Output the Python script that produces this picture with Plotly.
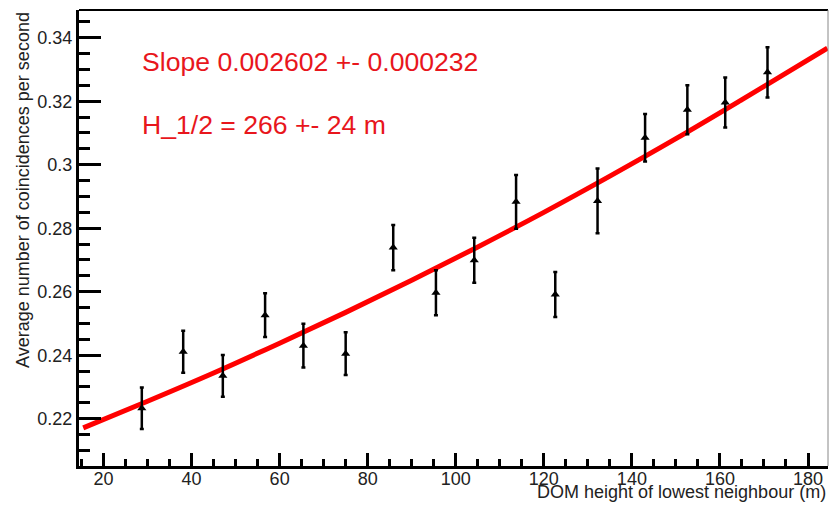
import plotly.graph_objects as go

# measured points: DOM height (m), average coincidence rate (1/s), error
height_m = [28.7, 38.1, 47.1, 56.7, 65.4, 75.0, 85.8, 95.5, 104.2, 113.7,
            122.6, 132.2, 143.0, 152.6, 161.2, 170.8]
rate = [0.2233, 0.2411, 0.2335, 0.2526, 0.2430, 0.2405, 0.2739, 0.2597,
        0.2699, 0.2883, 0.2591, 0.2886, 0.3085, 0.3173, 0.3196, 0.3291]
rate_err = [0.0065, 0.0066, 0.0066, 0.0069, 0.0069, 0.0067, 0.0071, 0.0071,
            0.0071, 0.0085, 0.0071, 0.0102, 0.0075, 0.0077, 0.0079, 0.0079]

# fitted curve
fit_x = [15.4, 30, 45, 60, 75, 90, 105, 120, 135, 150, 165, 184.4]
fit_y = [0.2171, 0.2255, 0.2344, 0.2438, 0.2535, 0.2636, 0.2741, 0.2850,
         0.2964, 0.3082, 0.3205, 0.3367]

x_ticks = [20, 40, 60, 80, 100, 120, 140, 160, 180]
y_ticks = [0.22, 0.24, 0.26, 0.28, 0.30, 0.32, 0.34]
y_tick_text = ['0.22', '0.24', '0.26', '0.28', '0.3', '0.32', '0.34']

FONT = 'Liberation Sans, Arial, sans-serif'
RED = '#e8161c'

fig = go.Figure()

fig.add_trace(go.Scatter(
    x=fit_x, y=fit_y,
    mode='lines',
    line=dict(color='#ff0000', width=5, shape='spline'),
    hoverinfo='skip'
))

fig.add_trace(go.Scatter(
    x=height_m, y=rate,
    mode='markers',
    marker=dict(symbol='triangle-up', size=8, color='black'),
    error_y=dict(type='data', array=rate_err, color='black', thickness=2.5, width=2)
))

fig.update_xaxes(
    range=[14.436, 184.54],
    tickvals=x_ticks,
    ticks='inside', ticklen=13, tickwidth=2.5, tickcolor='black',
    minor=dict(ticks='inside', ticklen=7, tickwidth=2.5, tickcolor='black', dtick=5, tick0=0),
    showline=True, linecolor='black', linewidth=3,
    showgrid=False, zeroline=False,
    ticklabelstandoff=-6,
    tickfont=dict(family=FONT, size=18, color='#222222')
)
fig.update_yaxes(
    range=[0.20511, 0.34873],
    tickvals=y_ticks, ticktext=y_tick_text,
    ticks='inside', ticklen=22, tickwidth=2.5, tickcolor='black',
    minor=dict(ticks='inside', ticklen=11, tickwidth=2.5, tickcolor='black', dtick=0.005, tick0=0),
    showline=True, linecolor='black', linewidth=3,
    showgrid=False, zeroline=False,
    tickfont=dict(family=FONT, size=18, color='#222222')
)

# frame: top and right borders
fig.add_shape(type='line', xref='paper', yref='paper', x0=0, x1=1, y0=1, y1=1,
              line=dict(color='black', width=2))
fig.add_shape(type='line', xref='paper', yref='paper', x0=1, x1=1, y0=0, y1=1,
              line=dict(color='#888888', width=1))

fig.add_annotation(text='Slope 0.002602 +- 0.000232', xref='paper', yref='paper',
                   x=0.0815, y=0.886, xanchor='left', yanchor='middle', showarrow=False,
                   font=dict(family=FONT, size=26.6, color=RED))
fig.add_annotation(text='H_1/2 = 266 +- 24 m', xref='paper', yref='paper',
                   x=0.0815, y=0.748, xanchor='left', yanchor='middle', showarrow=False,
                   font=dict(family=FONT, size=26.6, color=RED))

fig.add_annotation(text='Average number of coincidences per second', xref='paper', yref='paper',
                   x=-0.0748, y=1.0, xanchor='center', yanchor='top', textangle=-90,
                   showarrow=False, font=dict(family=FONT, size=18, color='#222222'))
fig.add_annotation(text='DOM height of lowest neighbour (m)', xref='paper', yref='paper',
                   x=1.0, y=-0.057, xanchor='right', yanchor='middle',
                   showarrow=False, font=dict(family=FONT, size=18, color='#222222'))

fig.update_layout(
    width=829, height=507,
    margin=dict(l=79, r=1, t=10, b=41),
    plot_bgcolor='white', paper_bgcolor='white',
    showlegend=False,
    hovermode=False
)

# the page body has an 8px margin by default; drop it so the plot sits at 0,0
fig.write_html('out.html', config={'displayModeBar': False},
               post_script="document.body.style.margin='0';")
